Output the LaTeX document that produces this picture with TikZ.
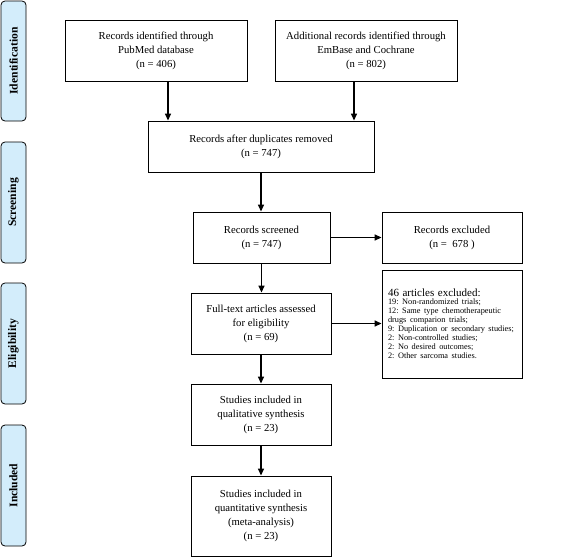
\documentclass[tikz,border=0pt]{standalone}
\usepackage{fontspec}
\setmainfont{Liberation Serif}
\usetikzlibrary{arrows.meta}
\frenchspacing

\begin{document}
\begin{tikzpicture}[x=1pt,y=-1pt,
  box/.style={draw,line width=0.9pt,align=center,inner sep=2pt,
    font=\fontsize{10.7}{14}\selectfont},
  phase/.style={draw,line width=0.8pt,rounded corners=4pt,fill=phaseblue,
    rotate=90,minimum height=25pt,inner sep=0pt,
    font=\fontsize{11.6}{14}\selectfont\bfseries},
  arr/.style={line width=1.5pt,-{Triangle[length=7pt,width=6pt]}}]
\definecolor{phaseblue}{HTML}{D3EDFB}
\useasboundingbox (0,0) rectangle (567,557);

\node [phase,minimum width=120pt] (ident) at (13.5,61) {Identification};
\node [phase,minimum width=121pt] (screen) at (13.5,202.5) {Screening};
\node [phase,minimum width=121pt] (elig) at (13.5,343.5) {Eligibility};
\node [phase,minimum width=121pt] (incl) at (13.5,485.5) {Included};

\node [box,minimum width=182pt,minimum height=61pt] (pubmed) at (156,50.5)
  {Records identified through\\PubMed database\\(n = 406)};
\node [box,minimum width=182pt,minimum height=61pt] (embase) at (366,50.5)
  {Additional records identified through\\EmBase and Cochrane\\(n = 802)};
\node [box,minimum width=226pt,minimum height=51pt] (dup) at (261,146.5)
  {Records after duplicates removed\\(n = 747)};
\node [box,minimum width=137pt,minimum height=51pt] (screened) at (261.5,237.5)
  {Records screened\\(n = 747)};
\node [box,minimum width=140pt,minimum height=51pt] (excluded) at (452,237.5)
  {Records excluded\\(n =\ \ 678 )};
\node [box,minimum width=140pt,minimum height=61pt] (fulltext) at (261,323.5)
  {Full-text articles assessed\\for eligibility\\(n = 69)};
\node [box,minimum width=140pt,minimum height=108pt,align=left,text width=128pt,
  inner sep=6pt] (reasons) at (452,324)
  {{\fontsize{11}{13}\selectfont 46 articles excluded:}\\[-1pt]
   {\fontsize{8.3}{9}\selectfont 19: Non-randomized trials;\\
   12: Same type chemotherapeutic\\drugs comparion trials;\\
   9: Duplication or secondary studies;\\2: Non-controlled studies;\\
   2: No desired outcomes;\\2: Other sarcoma studies.\par}};
\node [box,minimum width=140pt,minimum height=61pt] (qual) at (261,414.5)
  {Studies included in\\qualitative synthesis\\(n = 23)};
\node [box,minimum width=140pt,minimum height=80pt] (quant) at (261,516)
  {Studies included in\\quantitative synthesis\\(meta-analysis)\\(n = 23)};

\path ([xshift=12pt]pubmed.south) coordinate (pm);
\path ([xshift=-12pt]embase.south) coordinate (eb);
\draw [arr] (pm) -- (pm |- dup.north);
\draw [arr] (eb) -- (eb |- dup.north);
\draw [arr] (dup.south) -- (dup.south |- screened.north);
\draw [arr] (screened) -- (excluded);
\draw [arr] (screened.south) -- (screened.south |- fulltext.north);
\draw [arr] (fulltext.east) -- (fulltext.east -| reasons.west);
\draw [arr] (fulltext) -- (qual);
\draw [arr] (qual) -- (quant);

\end{tikzpicture}
\end{document}
